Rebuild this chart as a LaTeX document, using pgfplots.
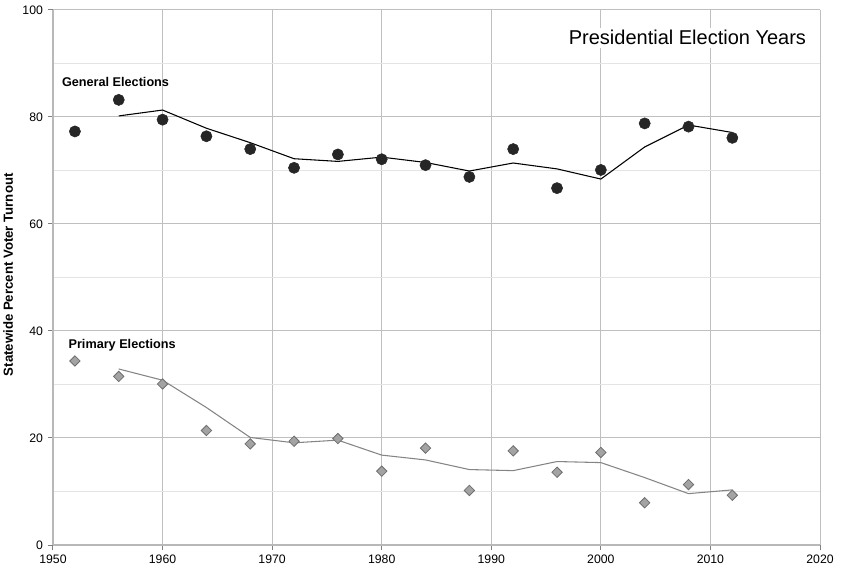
\documentclass[border=0pt]{standalone}
\usepackage{pgfplots}
\pgfplotsset{compat=1.18}
\usepackage{fontspec}
\setmainfont{Liberation Sans}
\definecolor{grid}{HTML}{B8B8B8}
\definecolor{mgrid}{HTML}{E4E4E4}
\definecolor{gdot}{HTML}{262626}
\definecolor{pfill}{HTML}{A3A3A3}
\definecolor{pedge}{HTML}{6E6E6E}
\definecolor{pline}{HTML}{858585}
\begin{document}
\begin{tikzpicture}
\begin{axis}[
  name=ax,
  scale only axis,
  width=575.25pt, height=401.25pt,
  xmin=1950, xmax=2020, ymin=0, ymax=100,
  xtick={1950,1960,...,2020},
  ytick={0,20,...,100},
  minor ytick={10,30,...,90},
  /pgf/number format/assume math mode=true,
  xticklabel style={/pgf/number format/1000 sep={}, font=\fontsize{9.2}{11}\selectfont},
  yticklabel style={font=\fontsize{9.2}{11}\selectfont},
  xmajorgrids, ymajorgrids, yminorgrids,
  major grid style={grid, line width=0.75pt},
  minor grid style={mgrid, line width=0.75pt},
  axis line style={grid, line width=1.5pt},
  axis x line*=bottom, axis y line*=left,
  tick style={grid, line width=0.75pt},
  major tick length=4pt,
  minor tick length=0pt,
  tick align=outside,
  ylabel={\bfseries Statewide Percent Voter Turnout},
  ylabel style={font=\fontsize{9.9}{11}\selectfont, at={(rel axis cs:0,0.505)}, anchor=south, yshift=26.5pt},
  clip=false,
]
% general elections
\addplot[only marks, mark=*, mark size=4.2pt, mark options={fill=gdot, draw=gdot}] coordinates {
(1952,77.3) (1956,83.2) (1960,79.5) (1964,76.4) (1968,74.0) (1972,70.5) (1976,73.0) (1980,72.1)
(1984,71.0) (1988,68.8) (1992,74.0) (1996,66.7) (2000,70.1) (2004,78.8) (2008,78.2) (2012,76.1)};
\addplot[black, line width=0.8pt, no marks] coordinates {
(1956,80.2) (1960,81.3) (1964,77.9) (1968,75.2) (1972,72.2) (1976,71.7) (1980,72.5)
(1984,71.5) (1988,69.9) (1992,71.4) (1996,70.3) (2000,68.4) (2004,74.4) (2008,78.5) (2012,77.1)};
% primary elections
\addplot[pline, line width=0.8pt, no marks] coordinates {
(1956,32.9) (1960,30.8) (1964,25.7) (1968,20.1) (1972,19.1) (1976,19.6) (1980,16.8)
(1984,15.9) (1988,14.1) (1992,13.9) (1996,15.6) (2000,15.4) (2004,12.6) (2008,9.6) (2012,10.3)};
\addplot[only marks, mark=square*, mark size=2.75pt, mark options={rotate=45, fill=pfill, draw=pedge, line width=0.6pt}] coordinates {
(1952,34.4) (1956,31.5) (1960,30.1) (1964,21.4) (1968,18.9) (1972,19.4) (1976,19.9) (1980,13.8)
(1984,18.1) (1988,10.2) (1992,17.6) (1996,13.6) (2000,17.3) (2004,7.9) (2008,11.3) (2012,9.3)};
\node[anchor=west, font=\fontsize{9.5}{11}\selectfont\bfseries, inner sep=0pt] at (axis cs:1950.8,86.6) {General Elections};
\node[anchor=west, font=\fontsize{9.5}{11}\selectfont\bfseries, inner sep=0pt] at (axis cs:1951.4,37.4) {Primary Elections};
\node[fill=white, font=\fontsize{15}{17}\selectfont, inner sep=2pt] at (axis cs:2007.9,94.8) {Presidential Election Years};
\end{axis}
\pgfresetboundingbox
\path ([shift={(-39.75pt,-19.5pt)}]ax.south west) rectangle ([shift={(27pt,7.5pt)}]ax.north east);
\end{tikzpicture}
\end{document}
